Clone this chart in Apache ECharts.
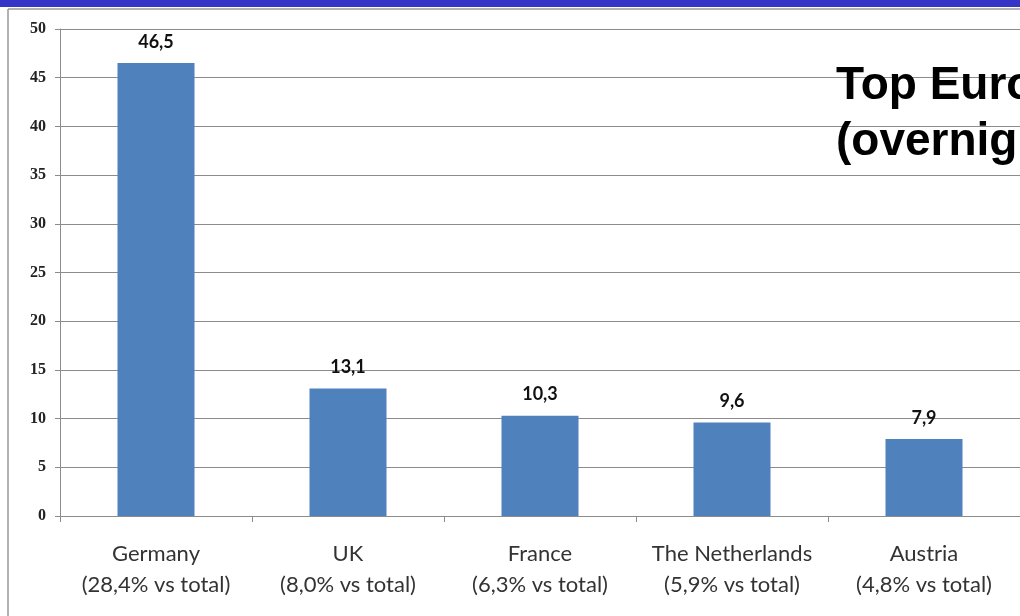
<!DOCTYPE html>
<html><head><meta charset="utf-8">
<script src="https://cdn.jsdelivr.net/npm/echarts@6/dist/echarts.min.js"></script>
<style>html,body{margin:0;padding:0;background:#fff;}#c{width:1020px;height:616px;}</style>
</head><body><div id="c"></div>
<script>
const countries = ['Germany','UK','France','The Netherlands','Austria'];
const shares = ['28,4%','8,0%','6,3%','5,9%','4,8%'];
const values = [46.5, 13.1, 10.3, 9.6, 7.9];
const titleLines = ['Top Euro', '(overnig'];

const chart = echarts.init(document.getElementById('c'));
chart.setOption({
  animation: false,
  grid: {left: 60, right: -1, top: 29, bottom: 100},
  xAxis: {
    type: 'category',
    data: countries.map((c, i) => c + '\n(' + shares[i] + ' vs total)'),
    axisLine: {lineStyle: {color: '#8c8c8c', width: 1}},
    axisTick: {show: true, alignWithLabel: false, length: 6, lineStyle: {color: '#8c8c8c'}},
    axisLabel: {fontFamily: 'Lato', fontSize: 22, color: '#333', lineHeight: 31, margin: 22, interval: 0}
  },
  yAxis: {
    type: 'value', min: 0, max: 50, interval: 5,
    axisLine: {show: true, lineStyle: {color: '#8c8c8c'}},
    axisTick: {show: true, length: 5, lineStyle: {color: '#8c8c8c'}},
    splitLine: {lineStyle: {color: '#8c8c8c', width: 1}},
    axisLabel: {fontFamily: 'Liberation Serif', fontWeight: 'bold', fontSize: 16, color: '#222', margin: 14}
  },
  series: [{
    type: 'bar', data: values, barWidth: 77,
    itemStyle: {color: '#4f81bd'},
    label: {show: true, position: 'top', distance: 12, fontFamily: 'Lato', fontWeight: 'bold', fontSize: 18, color: '#111',
      formatter: p => p.value.toFixed(1).replace('.', ',')}
  }],
  graphic: [
    {type: 'rect', shape: {x: 0, y: 0, width: 1020, height: 7}, style: {fill: '#3434c6'}, z: 10},
    {type: 'line', shape: {x1: 8, y1: 9, x2: 1020, y2: 9}, style: {stroke: '#999', lineWidth: 1.5}, z: 10},
    {type: 'line', shape: {x1: 8, y1: 9, x2: 8, y2: 616}, style: {stroke: '#999', lineWidth: 1.5}, z: 10},
    {type: 'text', left: 836, top: 58, style: {text: titleLines.join('\n'), font: 'bold 46px "Liberation Sans"', lineHeight: 56, fill: '#000'}, z: 20}
  ]
});
</script></body></html>
